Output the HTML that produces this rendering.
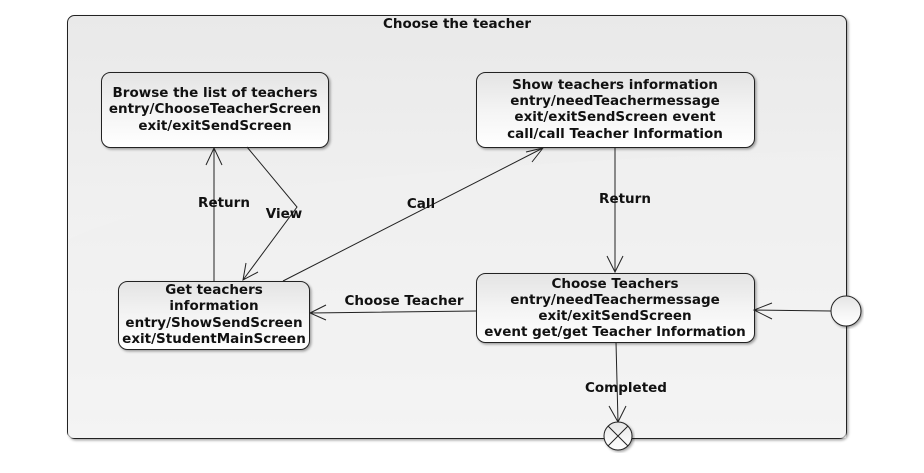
<!DOCTYPE html>
<html><head><style>
body{margin:0;background:#fff;}
svg text{font-family:"DejaVu Sans","Liberation Sans",sans-serif;font-weight:bold;font-size:13.5px;fill:#111;text-anchor:middle;}
</style></head><body>
<svg width="924" height="468" viewBox="0 0 924 468" xmlns="http://www.w3.org/2000/svg">
<defs>
<linearGradient id="bg" x1="0" y1="0" x2="0" y2="1">
<stop offset="0" stop-color="#e9e9e9"/><stop offset="1" stop-color="#f9f9f9"/></linearGradient>
<linearGradient id="nd" x1="0" y1="0" x2="0" y2="1">
<stop offset="0" stop-color="#e4e4e4"/><stop offset="0.5" stop-color="#f4f4f4"/><stop offset="1" stop-color="#ffffff"/></linearGradient>
<filter id="sh"><feDropShadow dx="1.5" dy="1.5" stdDeviation="1.2" flood-opacity="0.35"/></filter>
</defs>
<rect x="67.5" y="15.5" width="779" height="423" rx="7" fill="url(#bg)" stroke="#222" filter="url(#sh)"/>
<path d="M68 240 Q200 170 846 150 L846 438 L68 438 Z" fill="#f0f0f0" opacity="0.6"/>
<text x="457" y="28">Choose the teacher</text>
<g fill="url(#nd)" stroke="#222" filter="url(#sh)">
<rect x="101.5" y="72.5" width="227" height="75" rx="9"/>
<rect x="476.5" y="72.5" width="278" height="75" rx="9"/>
<rect x="118.5" y="281.5" width="191" height="68" rx="9"/>
<rect x="476.5" y="273.5" width="278" height="69" rx="9"/>
</g>
<text x="215" y="97">Browse the list of teachers</text>
<text x="215" y="113">entry/ChooseTeacherScreen</text>
<text x="215" y="130">exit/exitSendScreen</text>
<text x="615" y="89">Show teachers information</text>
<text x="615" y="105">entry/needTeachermessage</text>
<text x="615" y="121">exit/exitSendScreen event</text>
<text x="615" y="138">call/call Teacher Information</text>
<text x="214" y="294">Get teachers</text>
<text x="214" y="310">information</text>
<text x="214" y="327">entry/ShowSendScreen</text>
<text x="214" y="343">exit/StudentMainScreen</text>
<text x="615" y="288">Choose Teachers</text>
<text x="615" y="304">entry/needTeachermessage</text>
<text x="615" y="320">exit/exitSendScreen</text>
<text x="615" y="336">event get/get Teacher Information</text>
<g stroke="#222" fill="none" stroke-width="1">
<path d="M214 281 V148 M206 165 L214 148 L222 165"/>
<path d="M247 147 L297 207 L243 280 M246 263 L243 280 L258 272"/>
<path d="M283 281 L543 148 M526 152 L543 148 L532 162"/>
<path d="M615 148 V272 M607 256 L615 272 L623 256"/>
<path d="M476 311 L310 313 M326 305 L310 313 L326 320"/>
<path d="M831 311 L754 310 M772 303 L754 310 L772 319"/>
<path d="M616 342 L618 422 M609 406 L618 422 L626 406"/>
</g>
<circle cx="846" cy="311" r="15" fill="url(#nd)" stroke="#222" filter="url(#sh)"/>
<circle cx="618" cy="436" r="14" fill="url(#nd)" stroke="#222" filter="url(#sh)"/>
<path d="M608 426 L628 446 M628 426 L608 446" stroke="#222"/>
<text x="224" y="207">Return</text>
<text x="284" y="218">View</text>
<text x="421" y="208">Call</text>
<text x="625" y="203">Return</text>
<text x="404" y="305">Choose Teacher</text>
<text x="626" y="392">Completed</text>
</svg>
</body></html>
